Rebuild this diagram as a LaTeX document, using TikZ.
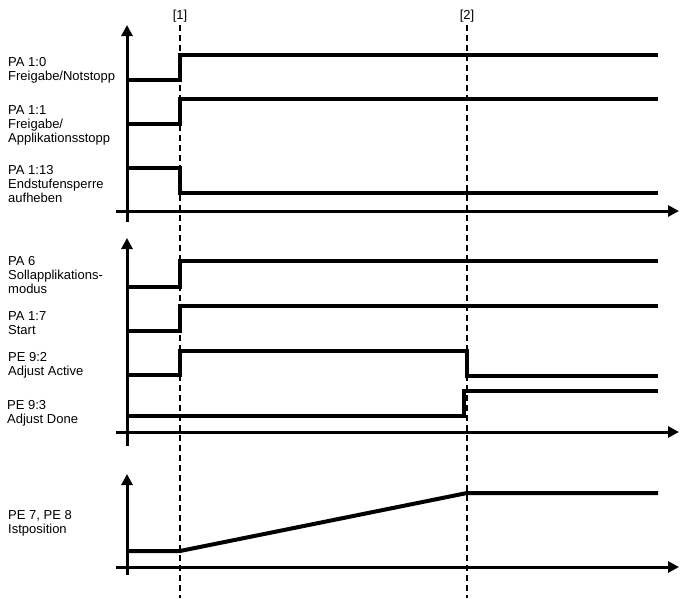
\documentclass[tikz,border=0pt]{standalone}
\usepackage{fontspec}
\setmainfont{Liberation Sans}
\usetikzlibrary{arrows.meta}
\begin{document}
\begin{tikzpicture}[x=1pt,y=-1pt,
  axis/.style={line width=3pt,-{Triangle[width=11pt,length=11pt]}},
  sig/.style={line width=4pt,miter limit=10},
  marker/.style={line width=1.5pt,dash pattern=on 6pt off 4pt},
  lbl/.style={anchor=north west,inner sep=0pt,align=left,font=\fontsize{13}{14}\selectfont},
  tag/.style={inner sep=0pt,font=\fontsize{13}{14}\selectfont}]
\useasboundingbox (0,0) rectangle (690,598);
% markers
\node[tag] (t1) at (180,16) {[1]};
\node[tag] (t2) at (467,16) {[2]};
\coordinate (m1t) at (180,25); \coordinate (m1b) at (180,598);
\coordinate (m2t) at (467,25); \coordinate (m2b) at (467,598);
\draw[marker] (m1t) -- (m1b);
\draw[marker] (m2t) -- (m2b);
% axes section 1
\coordinate (y1b) at (127,222); \coordinate (y1t) at (127,25);
\coordinate (x1l) at (116,211); \coordinate (x1r) at (679,211);
\draw[axis] (y1b) -- (y1t);
\draw[axis] (x1l) -- (x1r);
% axes section 2
\coordinate (y2b) at (127,446); \coordinate (y2t) at (127,238);
\coordinate (x2l) at (116,432); \coordinate (x2r) at (679,432);
\draw[axis] (y2b) -- (y2t);
\draw[axis] (x2l) -- (x2r);
% axes section 3
\coordinate (y3b) at (127,575); \coordinate (y3t) at (127,474);
\coordinate (x3l) at (116,567); \coordinate (x3r) at (679,567);
\draw[axis] (y3b) -- (y3t);
\draw[axis] (x3l) -- (x3r);
% signals
\draw[sig] (127,80) -- (180,80) -- (180,55) -- (658,55);
\draw[sig] (127,124) -- (180,124) -- (180,99) -- (658,99);
\draw[sig] (127,168) -- (180,168) -- (180,193) -- (658,193);
\draw[sig] (127,287) -- (180,287) -- (180,261) -- (658,261);
\draw[sig] (127,331) -- (180,331) -- (180,306) -- (658,306);
\draw[sig] (127,375) -- (180,375) -- (180,351) -- (467,351) -- (467,376) -- (658,376);
\draw[sig] (127,416) -- (464,416) -- (464,391) -- (658,391);
\draw[sig] (127,551) -- (180,551) -- (467,493) -- (658,493);
% labels
\node[lbl] (l1) at (8,57) {PA 1:0\\Freigabe/Notstopp};
\node[lbl] (l2) at (8,105) {PA 1:1\\Freigabe/\\Applikationsstopp};
\node[lbl] (l3) at (8,165) {PA 1:13\\Endstufensperre\\aufheben};
\node[lbl] (l4) at (8,256) {PA 6\\Sollapplikations-\\modus};
\node[lbl] (l5) at (8,311) {PA 1:7\\Start};
\node[lbl] (l6) at (8,352) {PE 9:2\\Adjust Active};
\node[lbl] (l7) at (7,400) {PE 9:3\\Adjust Done};
\node[lbl] (l8) at (8,510) {PE 7, PE 8\\Istposition};
\end{tikzpicture}
\end{document}
